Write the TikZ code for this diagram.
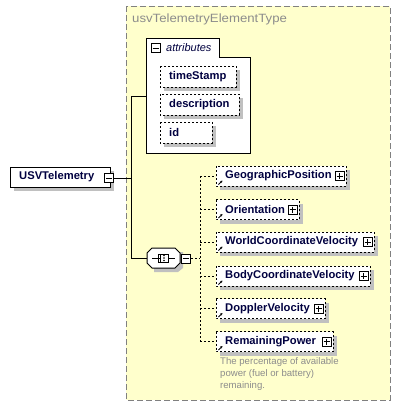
\documentclass[tikz,border=0pt]{standalone}
\usepackage{fontspec}
\setmainfont{Liberation Sans}
\newfontfamily\titlefont{Liberation Sans}[FakeStretch=1.1]
\usetikzlibrary{arrows.meta}
\tikzset{
  x=1pt,y=-1pt,
  elem/.style={draw=black,dash pattern=on 2pt off 2pt,fill=white,line width=1pt},
  solidbox/.style={draw=black,fill=white,line width=1pt},
  lbl/.style={anchor=west,inner sep=0pt,font=\bfseries\fontsize{11.2}{13}\selectfont,text=darkblue},
  conn/.style={line width=1pt},
  dconn/.style={line width=1pt,dash pattern=on 2pt off 2pt},
}
\definecolor{bgyellow}{RGB}{255,255,204}
\definecolor{shadowgray}{RGB}{192,192,192}
\definecolor{darkblue}{RGB}{0,0,64}
\definecolor{titlegray}{RGB}{140,140,140}
\definecolor{frame}{RGB}{128,128,128}
\newcommand{\pmbox}[3]{% x,y(center), plus?
  \draw[fill=white,line width=0.8pt] (#1-4.5,#2-4.5) rectangle (#1+4.5,#2+4.5);
  \draw[line width=0.8pt] (#1-3,#2) -- (#1+3,#2);
  \ifx#3p\draw[line width=0.8pt] (#1,#2-3) -- (#1,#2+3);\fi
}
\newcommand{\child}[4]{% name, y center, right x, text
  \fill[shadowgray] (220,#2-6) rectangle (#3+4,#2+14);
  \draw[elem] (216,#2-10) rectangle (#3,#2+10);
  \node[lbl] (#1) at (225,#2) {#4};
  \pmbox{#3-6.5}{#2}{p}
  \draw[line width=0.8pt,-{Stealth[length=2.5pt,width=2.5pt]}] (218.5,#2+8.5) -- (222.5,#2+4.5);
  \coordinate (#1w) at (216,#2);
}
\begin{document}
\begin{tikzpicture}
\useasboundingbox (0,0) rectangle (401,408);
% container
\draw[fill=bgyellow,draw=frame,line width=1pt,dash pattern=on 6pt off 3pt] (126,6) rectangle (390,400);
\node[anchor=west,inner sep=0pt,font=\titlefont\fontsize{12}{13}\selectfont,text=titlegray] (title) at (132,19) {usvTelemetryElementType};
% attributes box
\draw[solidbox] (146,38) -- (219,38) -- (219,57) -- (250,57) -- (250,153) -- (146,153) -- cycle;
\pmbox{155.5}{48}{m}
\node[anchor=west,inner sep=0pt,font=\itshape\fontsize{11}{13}\selectfont,text=darkblue] (attr) at (166,48) {attributes};
\fill[shadowgray] (164,70) rectangle (240,91);
\draw[elem] (160,66) rectangle (236,87);
\node[lbl] (ts) at (169,76.5) {timeStamp};
\fill[shadowgray] (164,98) rectangle (243,119);
\draw[elem] (160,94) rectangle (239,115);
\node[lbl] (desc) at (169,104.5) {description};
\fill[shadowgray] (164,126) rectangle (216,147);
\draw[elem] (160,122) rectangle (212,143);
\node[lbl] (id) at (169,132.5) {id};
% root element
\fill[shadowgray] (14,171) rectangle (114,191);
\draw[solidbox] (10,167) rectangle (110,187);
\node[lbl] (root) at (19,177) {USVTelemetry};
\pmbox{109}{178}{m}
\coordinate (rootr) at (114,178);
\coordinate (j) at (131,178);
\draw[conn] (rootr) -- (j);
\draw[conn] (146,96) -- (131,96) -- (131,258) -- (147,258);
% sequence octagon
\fill[shadowgray] (154,252) -- (183,252) -- (183,268) -- (178,272) -- (154,272) -- cycle;
\draw[solidbox] (152,248) -- (175,248) -- (180,253) -- (180,263) -- (175,268) -- (152,268) -- (147,263) -- (147,253) -- cycle;
\draw[line width=0.8pt] (152,258) -- (175,258);
\draw[fill=white,line width=0.8pt] (160,254) rectangle (168,262);
\draw[line width=0.8pt] (158,254) -- (160,254) (158,262) -- (160,262) (158,254) -- (158,262);
\foreach \yy in {255.5,258,260.5} \fill (164,\yy) circle (0.9);
\pmbox{186}{258.5}{m}
\draw[dconn] (191,258) -- (200,258);
\draw[dconn] (200,176) -- (200,342);
% children
\child{gp}{176}{346}{GeographicPosition}
\child{ori}{209.5}{299}{Orientation}
\child{wcv}{242}{374}{WorldCoordinateVelocity}
\child{bcv}{276}{370}{BodyCoordinateVelocity}
\child{dv}{308.5}{325}{DopplerVelocity}
\child{rp}{341.5}{333}{RemainingPower}
\foreach \n in {gp,ori,wcv,bcv,dv,rp} \draw[dconn] (200,0|-\n w) -- (\n w);
\node[anchor=north west,inner sep=0pt,align=left,font=\fontsize{9.6}{12.3}\selectfont,text=titlegray] (ann) at (220,357) {The percentage of available\\power (fuel or battery)\\remaining.};
\end{tikzpicture}
\end{document}
